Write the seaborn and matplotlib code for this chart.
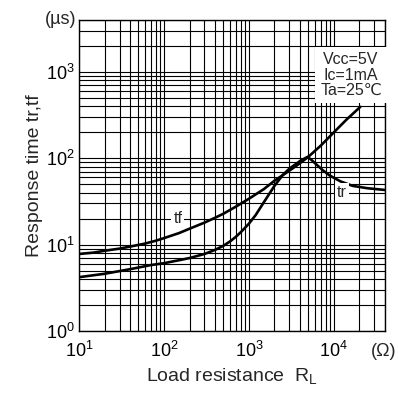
import numpy as np
import pandas as pd
import matplotlib
matplotlib.use("Agg")
import matplotlib.pyplot as plt
import matplotlib.ticker as mticker
import seaborn as sns

# values (load resistance in ohm, time in us)
tf_r = [10, 15, 20, 30, 40, 60, 80, 100, 150, 200, 300, 400, 500, 700,
        1000, 1500, 2000, 3000, 4000, 5000, 7000, 10000, 14000, 20500]
tf_t = [7.8, 8.1, 8.5, 9.0, 9.5, 10.3, 11.1, 11.9, 13.6, 15.3, 18.0, 20.5, 22.8, 27.5,
        34, 44, 55, 72, 88, 104, 140, 200, 279, 395]

tr_r = [10, 20, 40, 70, 100, 150, 200, 300, 400, 500, 600, 700, 800, 1000, 1200,
        1500, 2000, 2500, 3000, 4000, 4900, 5500, 6300, 7500, 9000, 12000, 16600,
        25000, 40000]
tr_t = [4.2, 4.6, 5.2, 5.8, 6.1, 6.6, 7.0, 7.8, 8.7, 9.7, 10.9, 12.3, 13.9, 17.5, 22,
        31, 48, 64, 76, 93, 104, 95, 84, 72, 63, 54, 48,
        45, 43]

conditions = ["Vcc=5V", "Ic=1mA", "Ta=25\u2103"]

df_tf = pd.DataFrame({"R": tf_r, "t": tf_t})
df_tr = pd.DataFrame({"R": tr_r, "t": tr_t})

sns.set_style("white")
plt.rcParams['font.family'] = ['Liberation Sans', 'DejaVu Sans']
plt.rcParams['mathtext.fontset'] = 'custom'
plt.rcParams['mathtext.rm'] = 'Liberation Sans'

fig = plt.figure(figsize=(3.98, 3.96), dpi=100)
ax = fig.add_axes([79 / 398, 1 - 331 / 396, 306 / 398, 311 / 396])

sns.lineplot(data=df_tf, x="R", y="t", ax=ax, color="black", linewidth=1.9, sort=False, zorder=4)
sns.lineplot(data=df_tr, x="R", y="t", ax=ax, color="black", linewidth=1.9, sort=False, zorder=4)

ax.set_xscale("log")
ax.set_yscale("log")
ax.set_xlim(10, 4e4)
ax.set_ylim(1, 4e3)

for axis in (ax.xaxis, ax.yaxis):
    axis.set_major_locator(mticker.LogLocator(base=10))
    axis.set_minor_locator(mticker.LogLocator(base=10, subs=np.arange(2, 10)))
    axis.set_minor_formatter(mticker.NullFormatter())

ax.grid(True, which="both", color="black", linewidth=0.8)
ax.tick_params(which="both", length=0, labelsize=13, colors="black")
ax.tick_params(axis="x", pad=7)
ax.tick_params(axis="y", pad=3)
for s in ax.spines.values():
    s.set_color("black")
    s.set_linewidth(1.0)

ax.set_xlabel("Load resistance  R$_\\mathregular{L}$", fontsize=14, labelpad=4)
ax.set_ylabel("Response time tr,tf", fontsize=14, labelpad=2)

ax.text(-0.01, 1.0, "(\u00b5s)", transform=ax.transAxes, ha="right", va="center", fontsize=13)
ax.text(0.995, -0.065, "(\u03a9)", transform=ax.transAxes, ha="center", va="center", fontsize=13,
        clip_on=False)

ax.text(0.889, 0.823, "\n".join(conditions), transform=ax.transAxes, ha="center", va="center",
        fontsize=11.5, linespacing=1.05, zorder=6,
        bbox=dict(facecolor="white", edgecolor="none", pad=3.5))

ax.text(146, 20, "tf", ha="center", va="center", fontsize=11.5, zorder=5,
        bbox=dict(facecolor="white", edgecolor="none", pad=1.5))
ax.text(12400, 40, "tr", ha="center", va="center", fontsize=11.5, zorder=5,
        bbox=dict(facecolor="white", edgecolor="none", pad=1.5))

ax.set_facecolor("white")
fig.savefig("out.png", dpi=100)
